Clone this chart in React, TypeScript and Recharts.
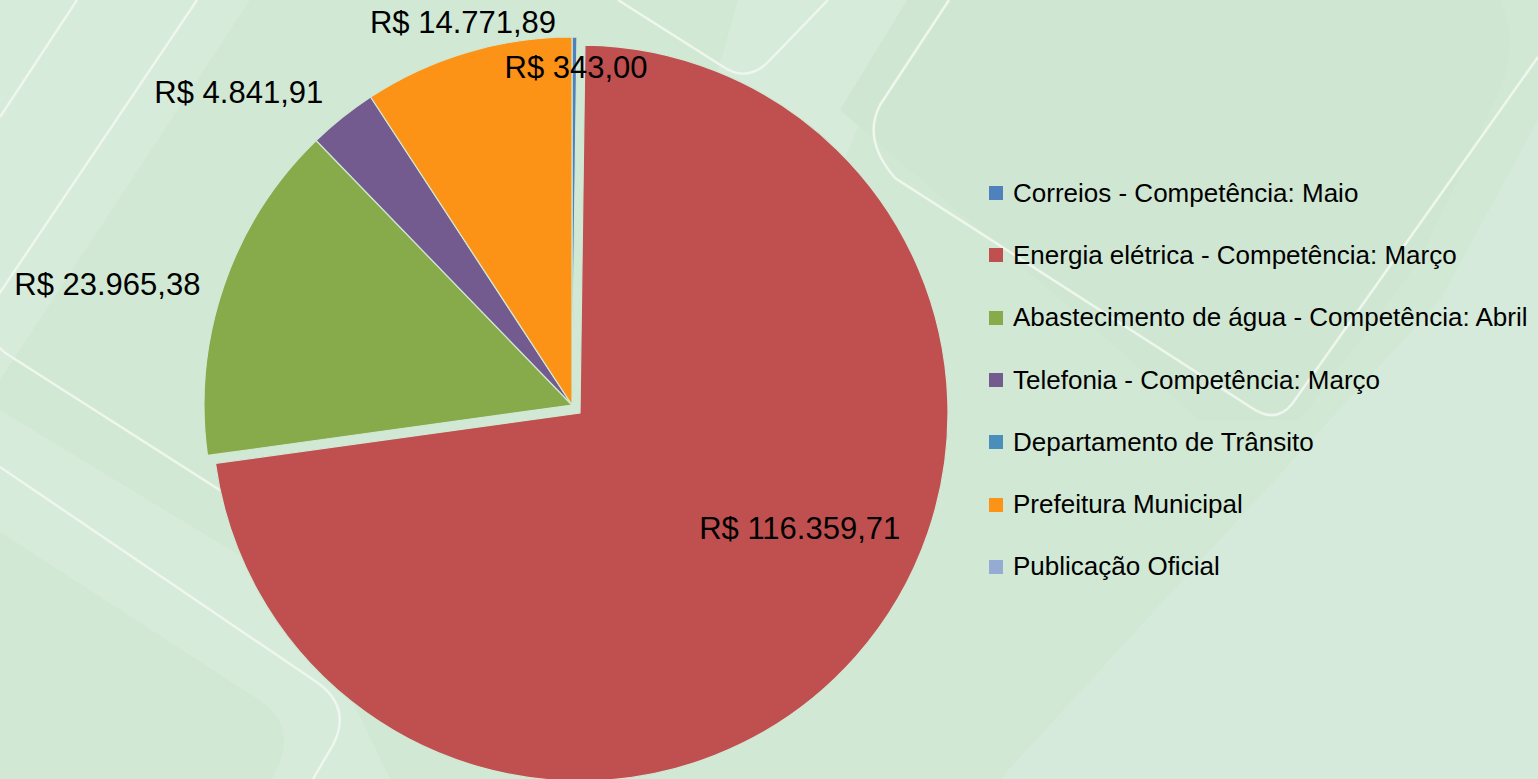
import { PieChart, Pie, Cell, Legend } from 'recharts'

// despesas por serviço (R$)
const NAMES = [
  'Correios - Competência: Maio',
  'Energia elétrica - Competência: Março',
  'Abastecimento de água - Competência: Abril',
  'Telefonia - Competência: Março',
  'Departamento de Trânsito',
  'Prefeitura Municipal',
  'Publicação Oficial',
]
const VALUES = [343.0, 116359.71, 23965.38, 4841.91, 0, 14771.89, 0]
const COLORS = ['#4f81bd', '#c0504f', '#87ab4b', '#735a8f', '#4a8fbb', '#fc9216', '#95abd3']

// the big slice is pulled out of the pie
const EXPLODED = 1

// label placement relative to each slice: clockwise turn (deg) and push past the rim (px)
const LABEL_PLACE: Record<number, { turn: number; push: number }> = {
  0: { turn: 0.3, push: -30 },
  1: { turn: -13.8, push: -120 },
  2: { turn: -4.5, push: 112 },
  3: { turn: -8.2, push: 89 },
  5: { turn: 0.7, push: 30 },
}

const BG = '#d1e8d4'
const FONT = '"Liberation Sans", Arial, sans-serif'
const RAD = Math.PI / 180

const data = NAMES.map((name, i) => ({ name, value: VALUES[i] }))

function brl(v: number) {
  const [int, dec] = v.toFixed(2).split('.')
  return `R$ ${int.replace(/\B(?=(\d{3})+(?!\d))/g, '.')},${dec}`
}

const makeLabel = (exploded: boolean) => (props: any) => {
  const { cx, cy, midAngle, outerRadius, index, value } = props
  if (!value) return null
  if ((index === EXPLODED) !== exploded) return null
  const place = LABEL_PLACE[index]
  if (!place) return null
  const a = (midAngle - place.turn) * RAD
  const r = outerRadius + place.push
  return (
    <text
      x={cx + r * Math.cos(-a)}
      y={cy + r * Math.sin(-a)}
      textAnchor="middle"
      dominantBaseline="central"
      fill="#000"
      fontSize={31}
      fontFamily={FONT}
    >
      {brl(value)}
    </text>
  )
}

function LegendList() {
  return (
    <div style={{ fontFamily: FONT, fontSize: 26, color: '#000' }}>
      {NAMES.map((n, i) => (
        <div key={n} style={{ height: 62.3, display: 'flex', alignItems: 'center', whiteSpace: 'nowrap' }}>
          <span style={{ width: 14, height: 14, background: COLORS[i], marginRight: 10, display: 'inline-block' }} />
          <span>{n}</span>
        </div>
      ))}
    </div>
  )
}

function Backdrop() {
  const line = { fill: 'none', stroke: '#eef6ee', strokeWidth: 2.5 }
  return (
    <svg width={1538} height={779} style={{ position: 'absolute', left: 0, top: 0 }}>
      <rect width={1538} height={779} fill={BG} />
      <path d="M0,0 L250,0 L0,380 Z" fill="#d6ebd9" />
      <path d="M0,410 L300,592 L390,779 L272,779 Q300,728 262,702 L0,532 Z" fill="#d6ebd9" />
      <path d="M738,0 L912,0 L840,170 L690,170 Z" fill="#d6ebd9" />
      <path d="M840,110 L907,0 L1500,0 Q1520,40 1500,90 L1420,260 L1300,420 L1200,420 Z" fill="#cfe7d2" />
      <path d="M1440,300 L1538,120 L1538,779 L1000,779 Z" fill="#d5eada" />
      <path d="M77,0 L0,117" {...line} />
      <path d="M197,0 L-5,300 Q-21,337 10,356 L420,618" {...line} />
      <path d="M0,467 L318,683 Q352,708 333,745 L313,779" {...line} />
      <path d="M618,0 L722,66 Q748,84 770,60 L828,0" {...line} />
      <path d="M949,0 L880,105 Q862,140 895,178 L1252,408 Q1276,424 1292,404 L1538,57" {...line} />
    </svg>
  )
}

export default function App() {
  return (
    <div style={{ position: 'fixed', left: 0, top: 0, width: 1538, height: 779, overflow: 'hidden' }}>
      <Backdrop />
      <div style={{ position: 'absolute', left: 0, top: 0 }}>
        <PieChart width={1538} height={779} margin={{ top: 0, right: 0, bottom: 0, left: 0 }}>
          <Pie
            data={data}
            dataKey="value"
            nameKey="name"
            cx={572}
            cy={405}
            outerRadius={368}
            startAngle={90}
            endAngle={-270}
            label={makeLabel(false)}
            labelLine={false}
            isAnimationActive={false}
          >
            {data.map((d, i) => (
              <Cell
                key={d.name}
                fill={i === EXPLODED ? 'transparent' : COLORS[i]}
                stroke={i === EXPLODED ? 'none' : BG}
                strokeWidth={1.2}
              />
            ))}
          </Pie>
          <Pie
            data={data}
            dataKey="value"
            nameKey="name"
            cx={580}
            cy={413}
            outerRadius={368}
            startAngle={90}
            endAngle={-270}
            label={makeLabel(true)}
            labelLine={false}
            legendType="none"
            isAnimationActive={false}
          >
            {data.map((d, i) => (
              <Cell
                key={d.name}
                fill={i === EXPLODED ? COLORS[i] : 'transparent'}
                stroke={i === EXPLODED ? BG : 'none'}
                strokeWidth={1.2}
              />
            ))}
          </Pie>
          <Legend
            layout="vertical"
            align="right"
            verticalAlign="top"
            wrapperStyle={{ left: 989, top: 162, width: 549 }}
            content={() => <LegendList />}
          />
        </PieChart>
      </div>
    </div>
  )
}
